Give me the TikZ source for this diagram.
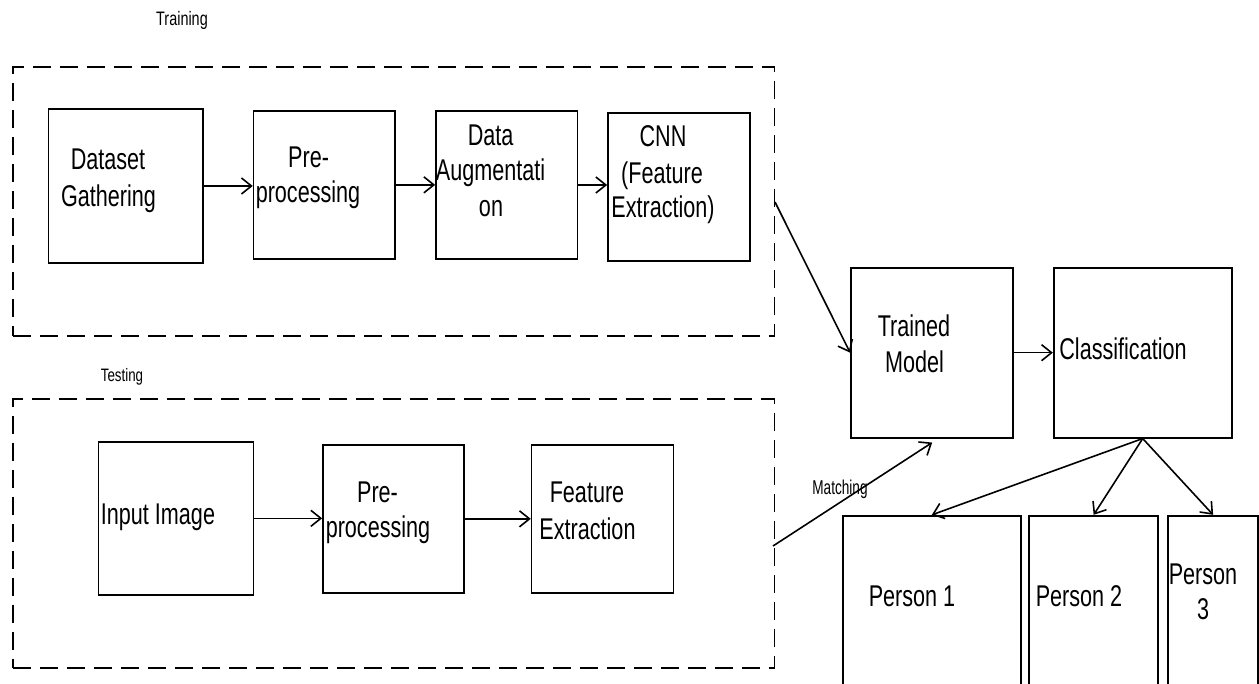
\documentclass[tikz,border=0pt]{standalone}
\usepackage{fontspec}
\setmainfont{Liberation Sans}[FakeStretch=0.72]
\newfontfamily\smallfnt{Liberation Sans}[FakeStretch=0.74]
\newfontfamily\smallfntn{Liberation Sans}[FakeStretch=0.68]
\usetikzlibrary{arrows.meta}
\begin{document}
\begin{tikzpicture}[x=1pt,y=-1pt,
  box/.style={draw, line width=1.7pt, inner sep=0pt},
  dbox/.style={draw, line width=1.9pt, dash pattern=on 18pt off 9pt, inner sep=0pt},
  big/.style={font=\fontsize{30}{36}\selectfont, inner sep=0pt, anchor=base},
  small/.style={font=\smallfnt\fontsize{19.5}{22}\selectfont, inner sep=0pt, anchor=base},
  arr/.style={line width=1.6pt, -{Straight Barb[length=10pt,width=16pt]}}
]
\clip (0,0) rectangle (1259,684);
\fill[white] (0,0) rectangle (1259,684);

% dashed groups
\node[dbox, minimum width=761.7pt, minimum height=269.3pt] (train) at (393.65,201.35) {};
\node[dbox, minimum width=761.7pt, minimum height=269pt] (test) at (393.65,533.5) {};

% training boxes
\node[box, minimum width=154.5pt, minimum height=154pt] (dg) at (125.75,186) {};
\node[box, minimum width=141.4pt, minimum height=148.3pt] (pp1) at (324.3,184.85) {};
\node[box, minimum width=141.5pt, minimum height=148pt] (da) at (506.75,185) {};
\node[box, minimum width=142pt, minimum height=148.3pt] (cnn) at (679,186.85) {};

% testing boxes
\node[box, minimum width=155.1pt, minimum height=153.3pt] (ii) at (176.05,518.35) {};
\node[box, minimum width=141pt, minimum height=147.7pt] (pp2) at (393.5,518.85) {};
\node[box, minimum width=141.9pt, minimum height=147.7pt] (fe) at (602.55,518.85) {};

% right side
\node[box, minimum width=162.3pt, minimum height=170pt] (tm) at (932.15,352.7) {};
\node[box, minimum width=178pt, minimum height=170pt] (cl) at (1142.7,352.7) {};
\node[box, minimum width=177.7pt, minimum height=204.3pt] (p1) at (931.85,617.85) {};
\node[box, minimum width=128.7pt, minimum height=204.3pt] (p2) at (1093.65,617.85) {};
\node[box, minimum width=89.7pt, minimum height=204.3pt] (p3) at (1213.15,617.85) {};

% texts
\node[small] (ttrain) at (182,25.7) {Training};
\node[small, font=\smallfnt\fontsize{18}{22}\selectfont] (ttest) at (122,382) {Testing};
\node[small, font=\smallfntn\fontsize{20}{22}\selectfont] (match) at (840,495) {Matching};

\node[big] (dg1) at (108,170) {Dataset};
\node[big] (dg2) at (108.5,207) {Gathering};
\node[big] (pa1) at (308.6,168) {Pre-};
\node[big] (pa2) at (308,203) {processing};
\node[big] (da1) at (490.6,146) {Data};
\node[big] (da2) at (490.6,180.7) {Augmentati};
\node[big] (da3) at (491,216.7) {on};
\node[big] (cn1) at (663,147) {CNN};
\node[big] (cn2) at (662,184) {(Feature};
\node[big] (cn3) at (663,218) {Extraction)};

\node[big] (ii1) at (158,524) {Input Image};
\node[big] (pb1) at (377.5,502.7) {Pre-};
\node[big] (pb2) at (378,537.7) {processing};
\node[big] (fe1) at (587,502.7) {Feature};
\node[big] (fe2) at (587.5,539) {Extraction};

\node[big] (tm1) at (914,336.7) {Trained};
\node[big] (tm2) at (914.5,372.7) {Model};
\node[big] (cl1) at (1123,359.3) {Classification};
\node[big] (pe1) at (912,606) {Person 1};
\node[big] (pe2) at (1079,606) {Person 2};
\node[big] (pe3a) at (1203,584) {Person};
\node[big] (pe3b) at (1203,619.3) {3};

% connectors
\coordinate (cnnout) at (775,202);
\coordinate (featout) at (773,546);
\draw[arr] (dg.east) -- (dg.east -| pp1.west);
\draw[arr] (pp1.east) -- (pp1.east -| da.west);
\draw[arr] (da.east) -- (da.east -| cnn.west);
\draw[arr] (ii.east) -- (ii.east -| pp2.west);
\draw[arr] (pp2.east) -- (pp2.east -| fe.west);
\draw[arr] (cnnout) -- (tm.west);
\draw[arr] (tm.east) -- (cl.west);
\draw[arr] (featout) -- ([yshift=-4pt]tm.south);
\draw[arr] (cl.south) -- (p1.north);
\draw[arr] (cl.south) -- (p2.north);
\draw[arr] (cl.south) -- (p3.north);
\end{tikzpicture}
\end{document}
